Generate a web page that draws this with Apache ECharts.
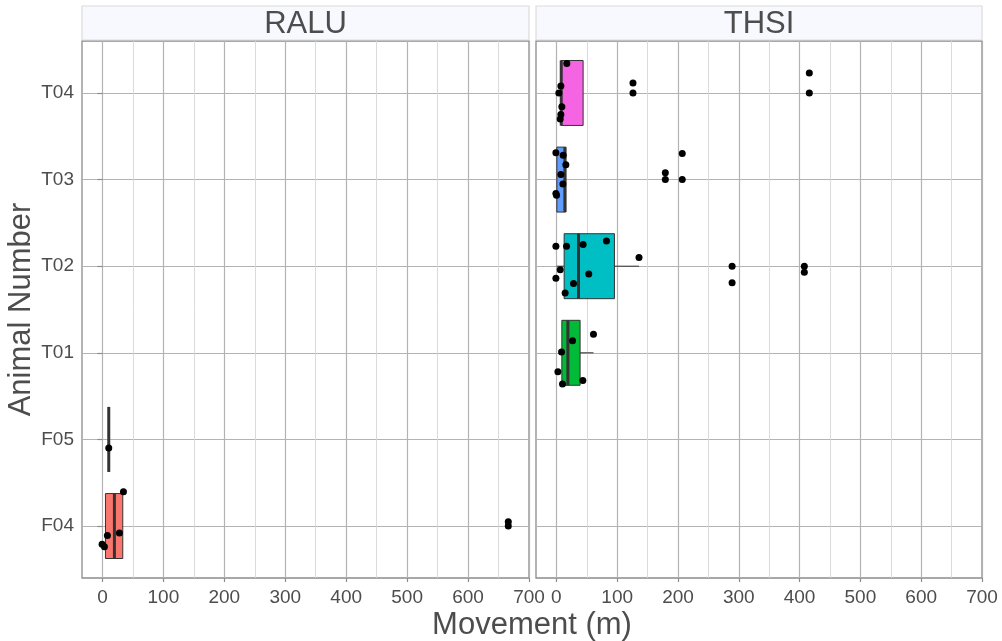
<!DOCTYPE html>
<html lang="en">
<head>
<meta charset="UTF-8">
<title>Movement by animal</title>
<script src="https://cdn.jsdelivr.net/npm/echarts@6/dist/echarts.min.js"></script>
<style>
  html, body { margin: 0; padding: 0; background: #fff; }
  #main { width: 1002px; height: 641px; }
</style>
</head>
<body>
<div id="main"></div>
<script>
// animals on the y axis (bottom to top)
var categories = ['F04', 'F05', 'T01', 'T02', 'T03', 'T04'];
var facets = ['RALU', 'THSI'];
var xTicks = [0, 100, 200, 300, 400, 500, 600, 700];
var xMinor = [50, 150, 250, 350, 450, 550, 650];

// box stats: animal, lower whisker, q1, median, q3, upper whisker
var raluBoxes = [
  ['F04', 5, 5, 19.7, 33.4, 33.4],
  ['F05', 10.4, 10.4, 10.4, 10.4, 10.4]
];
var thsiBoxes = [
  ['T01', 9, 9, 18.9, 39, 61],
  ['T02', 0.3, 12.8, 36.4, 95.5, 136],
  ['T03', 0.8, 0.8, 14, 15.6, 15.6],
  ['T04', 7.4, 7.4, 8, 44, 44]
];

// points: movement, animal, vertical jitter
var raluPoints = [
  [-0.5, 'F04', -0.21], [3.3, 'F04', -0.24], [8.2, 'F04', -0.11], [27.9, 'F04', -0.08],
  [34.5, 'F04', 0.395], [666, 'F04', 0.05], [666, 'F04', 0.0],
  [10.4, 'F05', -0.10]
];
var thsiPoints = [
  [61, 'T01', 0.215], [26.6, 'T01', 0.14], [8.5, 'T01', 0.01], [2.5, 'T01', -0.22],
  [10.1, 'T01', -0.36], [43.5, 'T01', -0.32],
  [-0.8, 'T02', 0.23], [16.7, 'T02', 0.23], [44, 'T02', 0.25], [82.4, 'T02', 0.29],
  [135.9, 'T02', 0.10], [6.3, 'T02', -0.04], [53.3, 'T02', -0.09], [-0.8, 'T02', -0.14],
  [28.2, 'T02', -0.20], [14.4, 'T02', -0.31], [289, 'T02', 0], [289, 'T02', -0.19],
  [407.8, 'T02', 0], [407.8, 'T02', -0.07],
  [-0.8, 'T03', 0.31], [11.2, 'T03', 0.28], [15.6, 'T03', 0.17], [7.4, 'T03', 0.06],
  [10.7, 'T03', -0.05], [-0.8, 'T03', -0.16], [0.3, 'T03', -0.18], [179.2, 'T03', 0.08],
  [179.2, 'T03', 0], [207, 'T03', 0.30], [207, 'T03', 0],
  [17.2, 'T04', 0.34], [7.4, 'T04', 0.08], [4.1, 'T04', 0.0], [9, 'T04', -0.16],
  [7.4, 'T04', -0.25], [6.3, 'T04', -0.30], [126, 'T04', 0.115], [126, 'T04', 0],
  [416, 'T04', 0.23], [416, 'T04', 0]
];

var fillColors = ['#F8766D', '#B79F00', '#00BA38', '#00BFC4', '#619CFF', '#F564E3'];
var textColor = '#4d4d4d';
var font = 'Liberation Sans, Arial, sans-serif';

function catNum(name) { return categories.indexOf(name) + 1; }

function boxData(rows) {
  return rows.map(function (r) { return [catNum(r[0]), r[1], r[2], r[3], r[4], r[5]]; });
}
function pointData(rows) {
  return rows.map(function (r) { return [r[0], catNum(r[1]) + r[2]]; });
}

function renderBox(params, api) {
  var y = api.value(0);
  var lo = api.coord([api.value(1), y]);
  var q1 = api.coord([api.value(2), y]);
  var md = api.coord([api.value(3), y]);
  var q3 = api.coord([api.value(4), y]);
  var hi = api.coord([api.value(5), y]);
  var h = api.size([0, 0.75])[1];
  var stroke = '#333333';
  return {
    type: 'group',
    children: [
      { type: 'line', shape: { x1: lo[0], y1: lo[1], x2: q1[0], y2: q1[1] }, style: { stroke: stroke, lineWidth: 1 } },
      { type: 'line', shape: { x1: q3[0], y1: q3[1], x2: hi[0], y2: hi[1] }, style: { stroke: stroke, lineWidth: 1 } },
      { type: 'rect', shape: { x: q1[0], y: q1[1] - h / 2, width: q3[0] - q1[0], height: h },
        style: { fill: fillColors[y - 1], stroke: stroke, lineWidth: 1 } },
      { type: 'line', shape: { x1: md[0], y1: md[1] - h / 2, x2: md[0], y2: md[1] + h / 2 },
        style: { stroke: stroke, lineWidth: 3 } }
    ]
  };
}

var grids = [
  { left: 82, top: 41, width: 447, height: 537 },
  { left: 536, top: 41, width: 446, height: 537 }
];
grids.forEach(function (g) {
  g.show = true; g.borderColor = '#8c8c8c'; g.borderWidth = 1.3; g.backgroundColor = '#fff';
  g.containLabel = false; g.outerBoundsMode = 'none';
});

var xAxes = [], yAxes = [];
[0, 1].forEach(function (i) {
  xAxes.push({
    type: 'value', gridIndex: i, min: -33.5, max: 700, position: 'bottom',
    axisLine: { show: false },
    axisTick: { show: true, customValues: xTicks, length: 4, lineStyle: { color: '#8c8c8c', width: 1.2 } },
    axisLabel: { customValues: xTicks, color: textColor, fontSize: 19, fontFamily: font, margin: 10 },
    splitLine: { show: true, lineStyle: { color: '#b3b3b3', width: 1.2 } }
  });
  xAxes.push({
    type: 'value', gridIndex: i, min: -33.5, max: 700, position: 'top',
    axisLine: { show: false },
    axisTick: { show: false, customValues: xMinor },
    axisLabel: { show: false },
    splitLine: { show: true, lineStyle: { color: '#d6d6d6', width: 0.9 } }
  });
  yAxes.push({
    type: 'value', gridIndex: i, min: 0.4, max: 6.6,
    axisLine: { show: false },
    axisTick: { show: i === 0, customValues: [1, 2, 3, 4, 5, 6], length: 5, lineStyle: { color: '#8c8c8c', width: 1.2 } },
    axisLabel: {
      show: i === 0, customValues: [1, 2, 3, 4, 5, 6], color: textColor, fontSize: 19, fontFamily: font, margin: 8,
      formatter: function (v) { return categories[Math.round(v) - 1]; }
    },
    splitLine: { show: true, lineStyle: { color: '#b3b3b3', width: 1.2 } },
    name: i === 0 ? 'Animal Number' : '',
    nameLocation: 'middle', nameRotate: 90, nameGap: 43,
    nameTextStyle: { color: textColor, fontSize: 31, fontFamily: font }
  });
});

function strip(left, width, label) {
  return {
    type: 'group', children: [
      { type: 'rect', shape: { x: left, y: 6, width: width, height: 34 },
        style: { fill: '#f8f8ff', stroke: '#dcdcdc', lineWidth: 1.2 } },
      { type: 'text', x: left + width / 2, y: 24,
        style: { text: label, fill: textColor, font: '31px ' + font, textAlign: 'center', textVerticalAlign: 'middle' } }
    ]
  };
}

var option = {
  animation: false,
  backgroundColor: '#fff',
  grid: grids,
  xAxis: xAxes,
  yAxis: yAxes,
  graphic: [
    strip(82, 447, facets[0]),
    strip(536, 446, facets[1]),
    { type: 'text', x: 532, y: 625,
      style: { text: 'Movement (m)', fill: textColor, font: '31px ' + font, textAlign: 'center', textVerticalAlign: 'middle' } }
  ],
  series: [
    { type: 'custom', xAxisIndex: 0, yAxisIndex: 0, renderItem: renderBox,
      encode: { x: [1, 2, 3, 4, 5], y: 0 }, data: boxData(raluBoxes), z: 2 },
    { type: 'custom', xAxisIndex: 2, yAxisIndex: 1, renderItem: renderBox,
      encode: { x: [1, 2, 3, 4, 5], y: 0 }, data: boxData(thsiBoxes), z: 2 },
    { type: 'scatter', xAxisIndex: 0, yAxisIndex: 0, data: pointData(raluPoints),
      symbolSize: 7, itemStyle: { color: '#000', opacity: 1 }, z: 3 },
    { type: 'scatter', xAxisIndex: 2, yAxisIndex: 1, data: pointData(thsiPoints),
      symbolSize: 7, itemStyle: { color: '#000', opacity: 1 }, z: 3 }
  ]
};

var myChart = echarts.init(document.getElementById('main'));
myChart.setOption(option);
</script>
</body>
</html>
